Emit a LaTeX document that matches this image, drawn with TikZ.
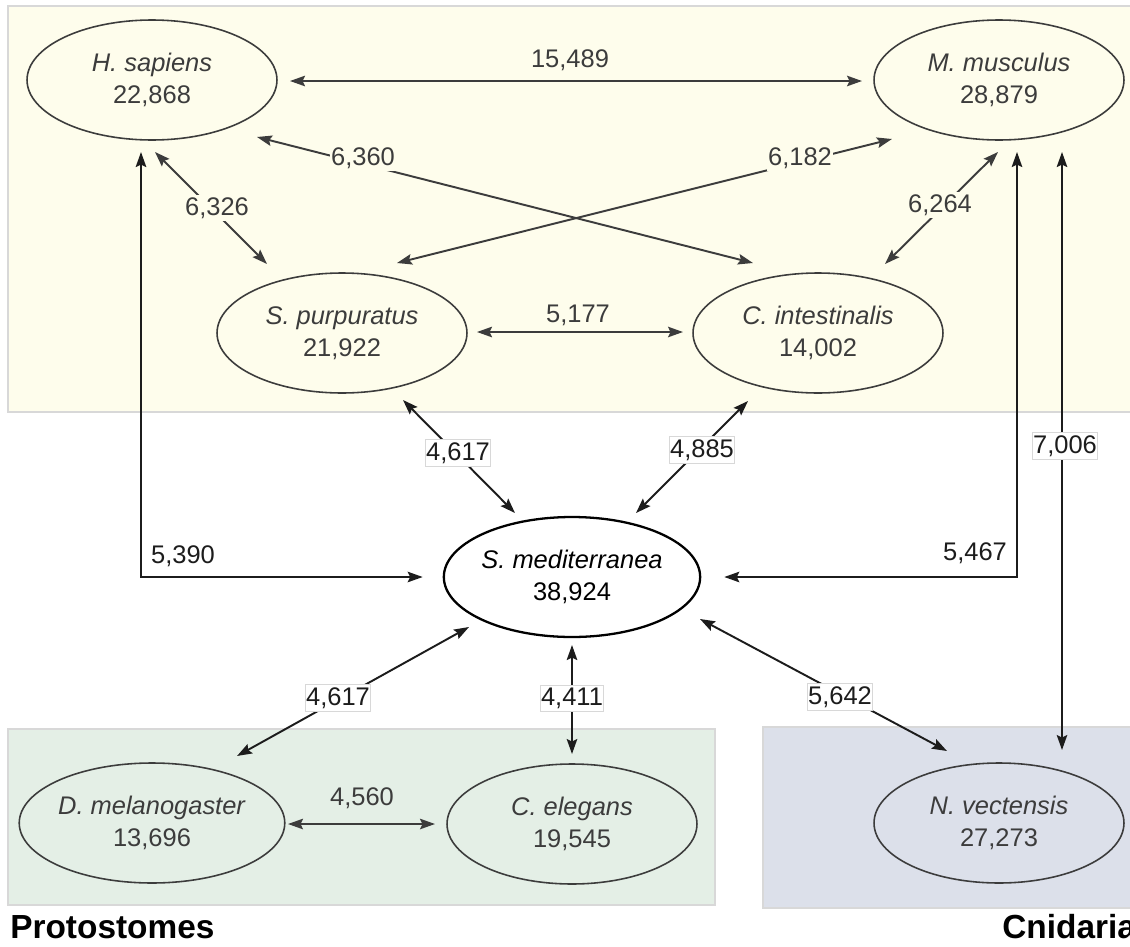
\documentclass[tikz,border=0pt]{standalone}
\usepackage{fontspec}
\setmainfont{Liberation Sans}
\usetikzlibrary{calc}
\usetikzlibrary{shapes.geometric}
\usetikzlibrary{arrows.meta}

\definecolor{panelyellow}{HTML}{FEFDEC}
\definecolor{panelgreen}{HTML}{E4EFE6}
\definecolor{panelblue}{HTML}{DCE0EA}
\definecolor{panelrule}{HTML}{D8D8D8}
\definecolor{inkgray}{HTML}{3C3C3C}
\definecolor{inkdark}{HTML}{1C1C1C}

\tikzset{
  species/.style={ellipse, draw=inkgray, line width=0.9pt, minimum width=5cm, minimum height=2.4cm,
    inner sep=0pt, align=center, text=inkgray, font=\fontsize{14.5}{18.2}\selectfont},
  biarrow/.style={{Stealth[length=3mm,width=2.1mm,inset=0.5mm]}-{Stealth[length=3mm,width=2.1mm,inset=0.5mm]},
    line width=1.1pt},
  count/.style={font=\fontsize{14.5}{17}\selectfont, inner xsep=0.5pt, inner ysep=1.5pt},
  boxedcount/.style={count, fill=white, draw=panelrule, line width=0.4pt, text=inkdark},
  group/.style={font=\bfseries\fontsize{19}{22}\selectfont, anchor=base west, inner sep=0pt}
}

\begin{document}
\begin{tikzpicture}[x=0.02cm, y=-0.02cm]
            % Fix the page size
            \clip (0,0) rectangle (1130,947);
            \fill[white] (0,0) rectangle (1130,947);

            % Draw the coloured panels
            \draw[panelrule, line width=1.1pt, fill=panelyellow] (8,6) rectangle (1140,412);
            \draw[panelrule, line width=1.1pt, fill=panelgreen] (8,729) rectangle (715,905);
            \draw[panelrule, line width=1.1pt, fill=panelblue] (763,727) rectangle (1140,908);

            % Species with their gene counts
            \foreach \id/\x/\y/\sp/\num in {hs/152/80/H. sapiens/{22,868}, mm/999/80/M. musculus/{28,879},
                    sp/342/333/S. purpuratus/{21,922}, ci/818/333/C. intestinalis/{14,002},
                    dm/152/823/D. melanogaster/{13,696}, ce/572/824/C. elegans/{19,545},
                    nv/999/823/N. vectensis/{27,273}}
                {
                    \node[species] (\id) at (\x,\y) {\textit{\sp}\\\num};
                }
            \node[species, draw=black, line width=1.3pt, text=black] (sm) at (572,577) {\textit{S. mediterranea}\\38,924};

            % Arrows inside the panels
            \foreach \a/\ax/\ay/\b/\bx/\by in {hs/138/1/mm/-137/1, hs/105/57/ci/-65/-70, mm/-107/59/sp/55/-70,
                    hs/3/72/sp/-75/-69, mm/-1/72/ci/67/-69, sp/135/-1/ci/-135/-1, dm/136/1/ce/-137/0}
                {
                    \draw[biarrow, inkgray] ($(\a)+(\ax,\ay)$) -- ($(\b)+(\bx,\by)$);
                }
            % Arrows to and from the planarian
            \foreach \a/\ax/\ay/\b/\bx/\by in {sp/61/67/sm/-57/-64, ci/-70/68/sm/64/-64, sm/-103/50/dm/85/-67,
                    sm/0/68/ce/0/-70, sm/128/42/nv/-52/-72, mm/63/72/nv/63/-73}
                {
                    \draw[biarrow, inkdark] ($(\a)+(\ax,\ay)$) -- ($(\b)+(\bx,\by)$);
                }
            \draw[biarrow, inkdark] ($(hs)+(-11,72)$) |- ($(sm.west)+(-20,0)$);
            \draw[biarrow, inkdark] ($(mm)+(18,72)$) |- ($(sm.east)+(23,0)$);

            % Counts of shared genes
            \foreach \id/\x/\y/\num in {l15489/570/60/{15,489}, l6360/363/158/{6,360}, l6182/800/158/{6,182},
                    l6326/217/208/{6,326}, l6264/940/205/{6,264}, l5177/578/315/{5,177}}
                {
                    \node[count, fill=panelyellow, text=inkgray] (\id) at (\x,\y) {\num};
                }
            \foreach \id/\x/\y/\num in {l4617a/458/453/{4,617}, l4885/702/450/{4,885}, l7006/1065/446/{7,006},
                    l4617b/338/698/{4,617}, l4411/572/698/{4,411}, l5642/840/697/{5,642}}
                {
                    \node[boxedcount] (\id) at (\x,\y) {\num};
                }
            \node[count, text=inkdark] (l5390) at (183,556) {5,390};
            \node[count, text=inkdark] (l5467) at (975,553) {5,467};
            \node[count, text=inkgray] (l4560) at (362,798) {4,560};

            % Group names
            \node[group] (proto) at (10,938) {Protostomes};
            \node[group] (cnid) at (1002,938) {Cnidaria};

        \end{tikzpicture}
\end{document}
